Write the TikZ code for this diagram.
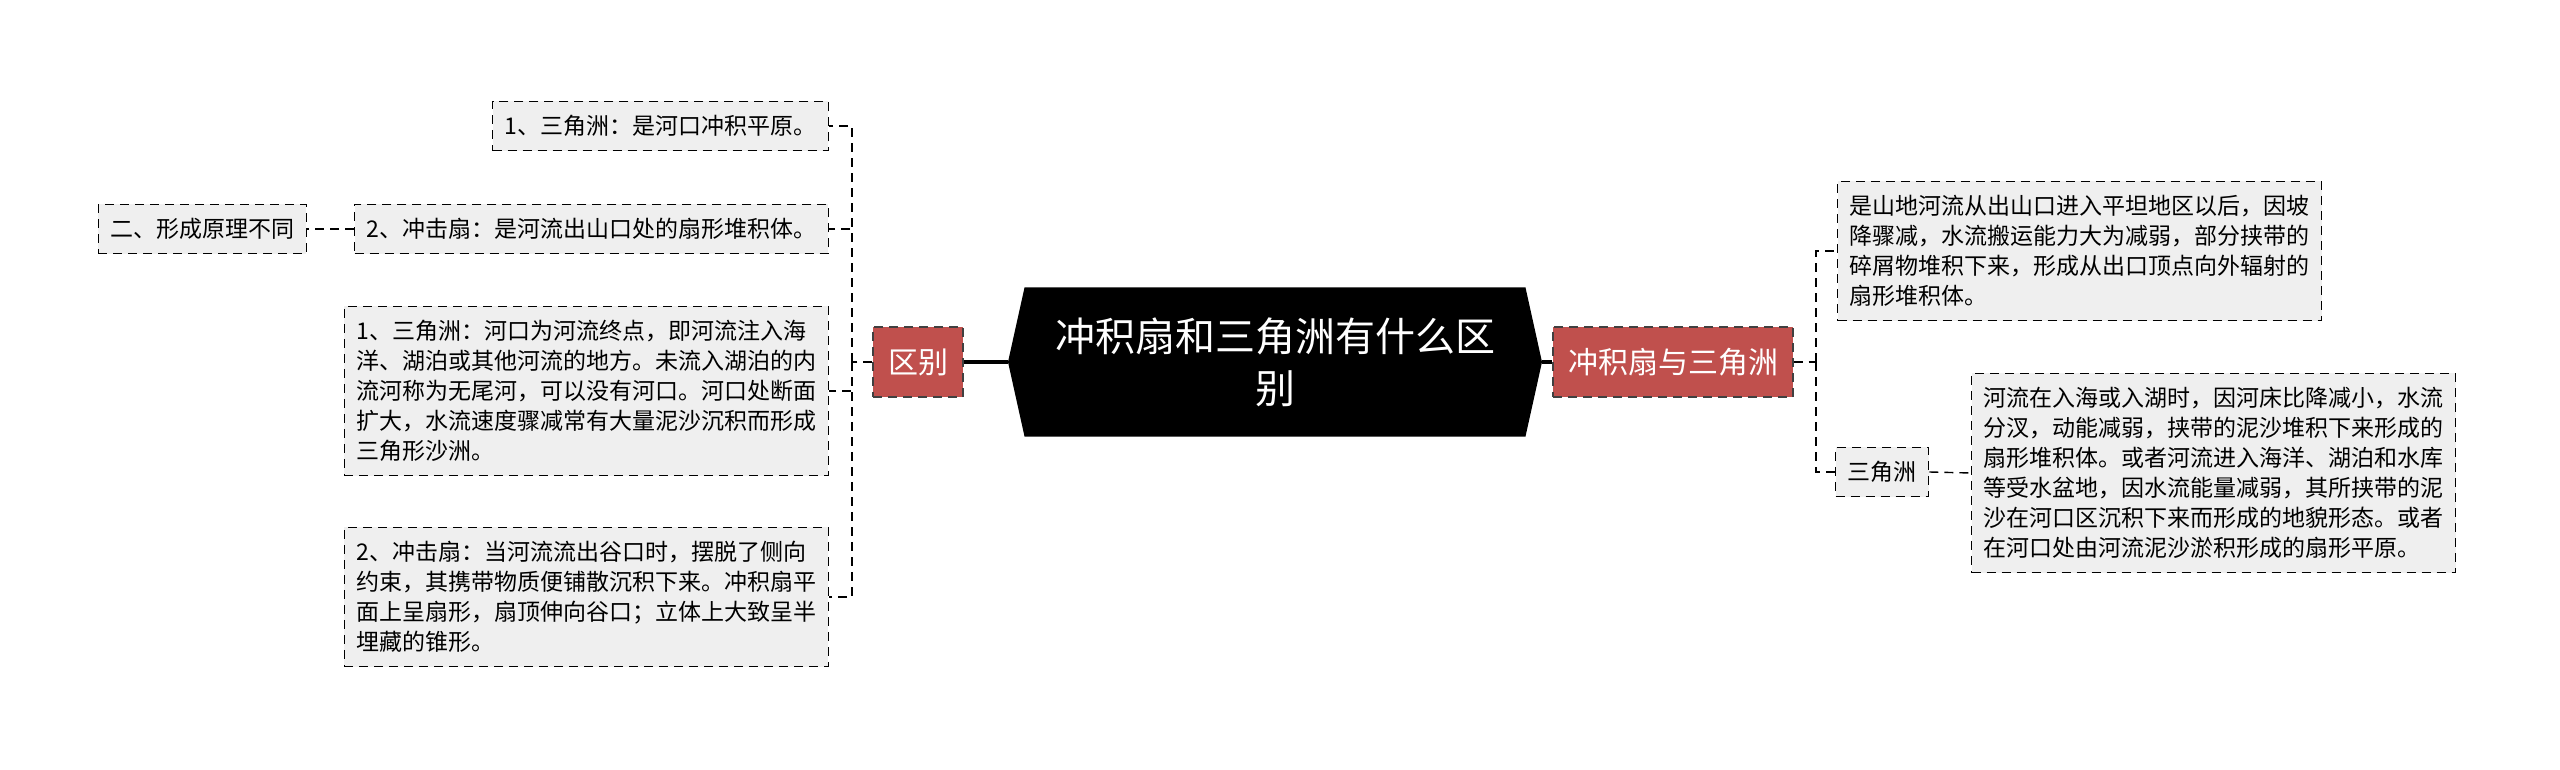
\documentclass[tikz,border=0pt]{standalone}
\usepackage{fontspec}
\setmainfont{Noto Sans CJK SC}
\usepackage{xcolor}
\usetikzlibrary{shapes.symbols}
\definecolor{boxgray}{HTML}{EFEFEF}
\definecolor{topicred}{HTML}{C0504D}

\begin{document}
\begin{tikzpicture}[x=0.5pt,y=-0.5pt,
    leaf/.style={draw=black,fill=boxgray,line width=0.7pt,dash pattern=on 4.5pt off 3pt,inner xsep=6pt,inner ysep=7pt,align=left,font=\fontsize{11.5}{15}\selectfont},
    topic/.style={draw=black!75,fill=topicred,text=white,line width=0.7pt,dash pattern=on 4.5pt off 3pt,minimum height=35pt,inner xsep=7.5pt,font=\fontsize{15}{18}\selectfont},
    link/.style={black,line width=0.7pt,dash pattern=on 4.5pt off 3pt},
    trunk/.style={black,line width=1.7pt}]
    \useasboundingbox (0,0) rectangle (2560,770);

    \node[signal,signal to=west and east,signal pointer angle=155,fill=black,text=white,minimum width=267pt,minimum height=74.5pt,align=center,font=\fontsize{20}{26}\selectfont] (root) at (1275,362) {冲积扇和三角洲有什么区\\别};
    \node[topic] (diff) at (918,362) {区别};
    \node[topic] (fan) at (1673,362) {冲积扇与三角洲};

    \node[leaf,anchor=east] (d1) at (829,126) {1、三角洲：是河口冲积平原。};
    \node[leaf,anchor=east] (d2) at (829,229) {2、冲击扇：是河流出山口处的扇形堆积体。};
    \node[leaf,anchor=east] (d2a) at (307,229) {二、形成原理不同};
    \node[leaf,anchor=east] (d3) at (829,391) {1、三角洲：河口为河流终点，即河流注入海\\洋、湖泊或其他河流的地方。未流入湖泊的内\\流河称为无尾河，可以没有河口。河口处断面\\扩大，水流速度骤减常有大量泥沙沉积而形成\\三角形沙洲。};
    \node[leaf,anchor=east] (d4) at (829,597) {2、冲击扇：当河流流出谷口时，摆脱了侧向\\约束，其携带物质便铺散沉积下来。冲积扇平\\面上呈扇形，扇顶伸向谷口；立体上大致呈半\\埋藏的锥形。};

    \node[leaf,anchor=west] (f1) at (1837,251) {是山地河流从出山口进入平坦地区以后，因坡\\降骤减，水流搬运能力大为减弱，部分挟带的\\碎屑物堆积下来，形成从出口顶点向外辐射的\\扇形堆积体。};
    \node[leaf,anchor=west] (f2) at (1835,472) {三角洲};
    \node[leaf,anchor=west] (f2a) at (1971,473) {河流在入海或入湖时，因河床比降减小，水流\\分汊，动能减弱，挟带的泥沙堆积下来形成的\\扇形堆积体。或者河流进入海洋、湖泊和水库\\等受水盆地，因水流能量减弱，其所挟带的泥\\沙在河口区沉积下来而形成的地貌形态。或者\\在河口处由河流泥沙淤积形成的扇形平原。};

    \draw[trunk] (root.west) -- (diff.east);
    \draw[trunk] (root.east) -- (fan.west);

    \coordinate (lspine) at (852,362);
    \coordinate (rspine) at (1816,362);
    \draw[link] (diff.west) -- (lspine);
    \foreach \n in {d1,d2,d3,d4}
        \draw[link] (lspine) |- (\n.east);
    \draw[link] (d2.west) -- (d2a.east);
    \draw[link] (fan.east) -- (rspine);
    \draw[link] (rspine) |- (f1.west);
    \draw[link] (rspine) |- (f2.west);
    \draw[link] (f2.east) -- (f2a.west);
\end{tikzpicture}
\end{document}
